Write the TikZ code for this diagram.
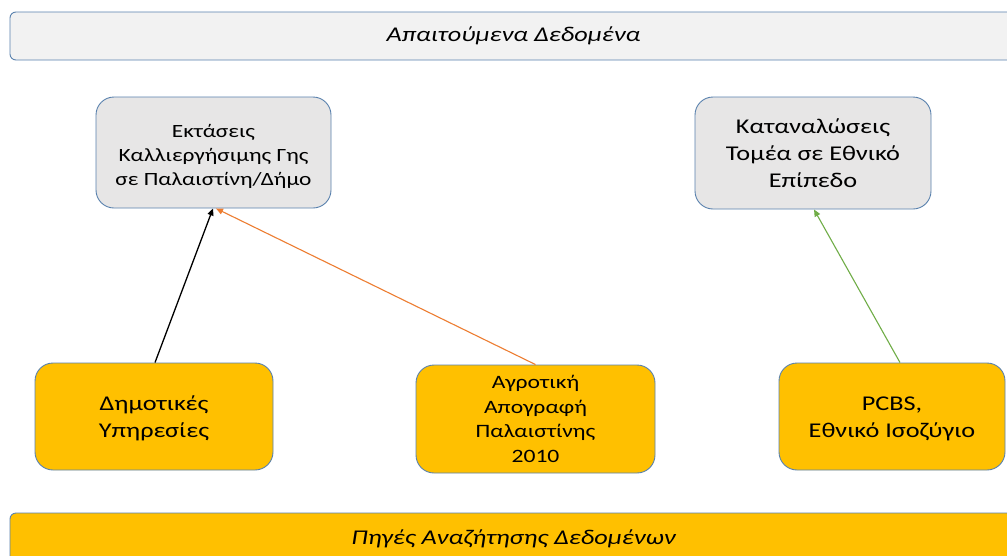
\documentclass[tikz,border=0pt]{standalone}
\usepackage{fontspec}
\setmainfont[FakeStretch=1.25]{Carlito}
\usetikzlibrary{arrows.meta}
\definecolor{edgeblue}{HTML}{5A82AE}
\definecolor{greyfill}{HTML}{E7E6E6}
\definecolor{bannerfill}{HTML}{F2F2F2}
\definecolor{gold}{HTML}{FFC000}
\definecolor{orangeline}{HTML}{ED7D31}
\definecolor{greenline}{HTML}{70AD47}
\begin{document}
\begin{tikzpicture}[x=1pt,y=-1pt,
  box/.style={draw=edgeblue, line width=0.9pt, rounded corners=18pt, align=center, inner sep=0pt},
  banner/.style={draw=edgeblue, line width=0.9pt, rounded corners=6pt, align=center, inner sep=0pt,
                 font=\fontsize{21}{26}\selectfont\itshape},
  needbox/.style={box, fill=greyfill},
  srcbox/.style={box, fill=gold},
  link/.style={line width=1.3pt, -{Triangle[length=7pt,width=6pt]}},
]
\clip (0,0) rectangle (1007,555);
\fill[white] (0,0) rectangle (1007,555);

% banners
\node[banner, fill=bannerfill, minimum width=1007pt, minimum height=48pt] (need) at (513.5,36) {Απαιτούμενα Δεδομένα};
\node[banner, fill=gold, minimum width=1007pt, minimum height=52pt] (src) at (513.5,539) {Πηγές Αναζήτησης Δεδομένων};

% required data (text height/depth place the last baseline inside the box)
\node[needbox, minimum width=235pt, minimum height=111pt, font=\fontsize{18.7}{24}\selectfont,
      text height=69pt, text depth=4pt] (land) at (213.5,152.5)
  {Εκτάσεις\\Καλλιεργήσιμης Γης\\σε Παλαιστίνη/Δήμο};
\node[needbox, minimum width=236pt, minimum height=112pt, font=\fontsize{21}{27}\selectfont] (cons) at (813,153)
  {Καταναλώσεις\\Τομέα σε Εθνικό\\Επίπεδο};

% data sources
\node[srcbox, minimum width=238pt, minimum height=107pt, font=\fontsize{21}{27}\selectfont,
      text height=45pt, text depth=4pt] (muni) at (154,416.5)
  {Δημοτικές\\Υπηρεσίες};
\node[srcbox, minimum width=239pt, minimum height=108pt, font=\fontsize{18.9}{24.5}\selectfont] (census) at (535.5,419)
  {Αγροτική\\Απογραφή\\Παλαιστίνης\\2010};
\node[srcbox, minimum width=226pt, minimum height=107pt, font=\fontsize{21}{27}\selectfont,
      text height=45pt, text depth=4pt] (pcbs) at (892,416.5)
  {PCBS,\\Εθνικό Ισοζύγιο};

% links
\draw[link, black] ([xshift=1pt]muni.north) -- ([xshift=-0.5pt]land.south);
\draw[link, orangeline, line width=1.1pt] (census.north) -- ([xshift=2.5pt]land.south);
\draw[link, greenline, line width=1.1pt] ([xshift=8pt]pcbs.north) -- ([xshift=1pt]cons.south);
\end{tikzpicture}
\end{document}
